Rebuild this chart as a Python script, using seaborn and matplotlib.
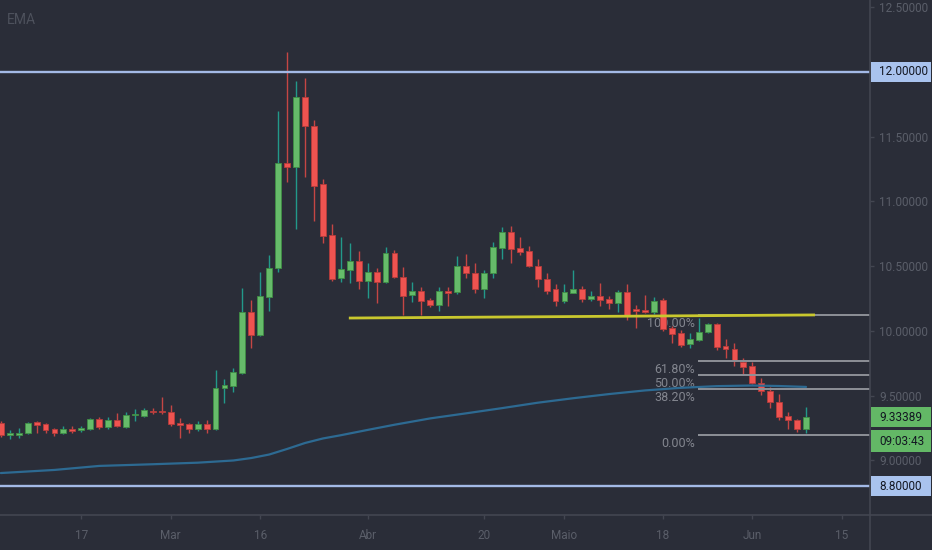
import numpy as np
import pandas as pd
import matplotlib
matplotlib.use("Agg")
import matplotlib.pyplot as plt
import matplotlib.transforms as mtrans
from matplotlib.patches import Rectangle
from matplotlib.lines import Line2D
import seaborn as sns

# ---------------- data ----------------
start_date = "2020-02-04"
opens = [9.290, 9.200, 9.197, 9.212, 9.297, 9.282, 9.243, 9.212, 9.243, 9.236,
         9.243, 9.320, 9.259, 9.313, 9.259, 9.348, 9.344, 9.383, 9.382, 9.375,
         9.290, 9.282, 9.243, 9.282, 9.243, 9.560, 9.576, 9.676, 10.147, 9.969,
         10.263, 10.486, 11.297, 11.266, 11.807, 11.583, 11.135, 10.741, 10.409, 10.471,
         10.541, 10.386, 10.456, 10.378, 10.602, 10.417, 10.278, 10.309, 10.240, 10.201,
         10.309, 10.301, 10.502, 10.448, 10.324, 10.448, 10.641, 10.764, 10.641, 10.618,
         10.502, 10.402, 10.324, 10.232, 10.293, 10.324, 10.247, 10.270, 10.247, 10.216,
         10.301, 10.170, 10.162, 10.147, 10.240, 10.023, 9.985, 9.900, 9.931, 9.992,
         10.054, 9.884, 9.861, 9.761, 9.730, 9.598, 9.537, 9.452, 9.344, 9.313,
         9.243]
highs = [9.305, 9.235, 9.251, 9.297, 9.305, 9.290, 9.251, 9.266, 9.266, 9.266,
         9.328, 9.336, 9.336, 9.367, 9.375, 9.398, 9.406, 9.406, 9.490, 9.429,
         9.328, 9.290, 9.305, 9.313, 9.699, 9.629, 9.714, 10.332, 10.240, 10.456,
         10.587, 11.702, 12.154, 11.931, 11.954, 11.629, 11.174, 10.826, 10.726, 10.680,
         10.618, 10.525, 10.486, 10.649, 10.625, 10.494, 10.378, 10.340, 10.255, 10.340,
         10.340, 10.580, 10.595, 10.525, 10.471, 10.687, 10.803, 10.811, 10.726, 10.656,
         10.556, 10.448, 10.363, 10.363, 10.471, 10.347, 10.309, 10.371, 10.270, 10.317,
         10.363, 10.201, 10.278, 10.263, 10.255, 10.039, 10.008, 9.985, 10.100, 10.062,
         10.062, 9.938, 9.907, 9.792, 9.761, 9.637, 9.568, 9.514, 9.375, 9.320,
         9.413]
lows = [9.181, 9.166, 9.174, 9.205, 9.212, 9.212, 9.189, 9.205, 9.212, 9.220,
        9.236, 9.243, 9.243, 9.259, 9.251, 9.305, 9.336, 9.359, 9.359, 9.267,
        9.174, 9.212, 9.228, 9.212, 9.236, 9.444, 9.529, 9.668, 9.869, 9.961,
        10.155, 10.456, 11.150, 10.787, 11.189, 10.850, 10.680, 10.386, 10.378, 10.371,
        10.324, 10.255, 10.216, 10.371, 10.409, 10.124, 10.224, 10.124, 10.185, 10.155,
        10.193, 10.286, 10.409, 10.293, 10.255, 10.409, 10.556, 10.525, 10.587, 10.494,
        10.340, 10.286, 10.193, 10.216, 10.293, 10.224, 10.232, 10.193, 10.170, 10.147,
        10.085, 10.023, 10.139, 10.131, 10.000, 9.907, 9.876, 9.869, 9.923, 9.985,
        9.853, 9.792, 9.730, 9.660, 9.591, 9.506, 9.405, 9.313, 9.243, 9.220,
        9.212]
closes = [9.197, 9.210, 9.212, 9.289, 9.274, 9.236, 9.212, 9.243, 9.228, 9.251,
          9.320, 9.259, 9.313, 9.266, 9.351, 9.351, 9.390, 9.375, 9.371, 9.282,
          9.274, 9.243, 9.282, 9.243, 9.560, 9.583, 9.684, 10.147, 9.969, 10.270,
          10.486, 11.297, 11.266, 11.807, 11.583, 11.120, 10.733, 10.402, 10.479, 10.541,
          10.386, 10.456, 10.378, 10.602, 10.417, 10.270, 10.309, 10.232, 10.201, 10.309,
          10.293, 10.502, 10.448, 10.324, 10.448, 10.649, 10.764, 10.633, 10.610, 10.502,
          10.402, 10.309, 10.232, 10.301, 10.324, 10.247, 10.270, 10.240, 10.216, 10.301,
          10.116, 10.155, 10.147, 10.232, 10.015, 9.977, 9.892, 9.938, 9.992, 10.054,
          9.876, 9.861, 9.768, 9.722, 9.598, 9.537, 9.452, 9.336, 9.313, 9.243,
          9.334]

ema_idx = [0, 6, 11, 17, 22, 26, 28, 30, 32, 34, 36, 38, 41, 44, 48, 52, 56, 60,
           64, 68, 72, 76, 80, 84, 87, 90]
ema_vals = [8.903, 8.927, 8.958, 8.971, 8.983, 9.000, 9.019, 9.046, 9.089, 9.135,
            9.170, 9.195, 9.236, 9.276, 9.325, 9.364, 9.404, 9.446, 9.481, 9.513,
            9.541, 9.561, 9.574, 9.579, 9.575, 9.568]

tick_dates = ["2020-02-17", "2020-03-02", "2020-03-16", "2020-04-01", "2020-04-20",
              "2020-05-01", "2020-05-18", "2020-06-01", "2020-06-15"]
tick_labels = ["17", "Mar", "16", "Abr", "20", "Maio", "18", "Jun", "15"]
price_ticks = [12.5, 11.5, 11.0, 10.5, 10.0, 9.5, 9.0]
hline_prices = [12.0, 8.8]
fib_high = 10.124
fib_low = 9.197
fib_levels = [1.0, 0.618, 0.5, 0.382, 0.0]
fib_labels = ["100.00%", "61.80%", "50.00%", "38.20%", "0.00%"]
trend_x = [38.9, 91.0]
trend_y = [10.100, 10.124]
last_price = 9.33389
countdown = "09:03:43"

# ---------------- style ----------------
BG = "#2a2d38"
GREEN = "#66bb6a"
GREEN_EDGE = "#3f8f45"
GREEN_WICK = "#22998a"
RED = "#ef5350"
RED_EDGE = "#b63c3b"
RED_WICK = "#c44644"
AXIS_TXT = "#5a5e69"
AXIS_LINE = "#434651"

sns.set_theme(style="dark", rc={"axes.facecolor": BG, "figure.facecolor": BG,
                                "savefig.facecolor": BG})
plt.rcParams["font.family"] = ["Roboto", "DejaVu Sans"]

W, H = 932, 550
fig = plt.figure(figsize=(W / 100, H / 100), dpi=100)
ax = fig.add_axes([0, 35 / H, 870 / W, 515 / H])
ax.set_facecolor(BG)
ymin, ymax = 8.579, 12.556
xmin, xmax = -0.09, 97.15
ax.set_xlim(xmin, xmax)
ax.set_ylim(ymin, ymax)
px_to_price = (ymax - ymin) / 515.0

o = np.array(opens); h = np.array(highs); l = np.array(lows); c = np.array(closes)
x = np.arange(len(o))
up = c >= o
body_bot = np.minimum(o, c)
body_h = np.maximum(np.abs(c - o), 1.3 * px_to_price)

ax.vlines(x[up], l[up], h[up], color=GREEN_WICK, lw=1.0, zorder=2)
ax.vlines(x[~up], l[~up], h[~up], color=RED_WICK, lw=1.0, zorder=2)
ax.bar(x[up], body_h[up], bottom=body_bot[up], width=0.66, color=GREEN,
       edgecolor=GREEN_EDGE, linewidth=0.6, zorder=3)
ax.bar(x[~up], body_h[~up], bottom=body_bot[~up], width=0.66, color=RED,
       edgecolor=RED_EDGE, linewidth=0.6, zorder=3)

# EMA
sns.lineplot(x=ema_idx, y=ema_vals, ax=ax, color="#2d6a92", lw=1.6, zorder=4)

# horizontal levels
for p in hline_prices:
    ax.axhline(p, color="#a3b9e6", lw=1.7, zorder=5)

# fib retracement
fib_prices = [fib_low + f * (fib_high - fib_low) for f in fib_levels]
fib_x0 = 77.9
ax.hlines(fib_prices, fib_x0, xmax, color="#8d9097", lw=1.4, zorder=4)
for fp, lab in zip(fib_prices, fib_labels):
    ax.annotate(lab, xy=(fib_x0 - 0.3, fp), xytext=(0, -6), textcoords="offset points",
                ha="right", va="center", color="#83868f", fontsize=9, zorder=1.5)

# trend line
ax.plot(trend_x, trend_y, color="#c9c82e", lw=2.0, zorder=5, solid_capstyle="butt")

# EMA label
ax.text(7 / 870, 1 - 20 / 515, "EMA", transform=ax.transAxes, ha="left", va="center",
        color="#4d515c", fontsize=10)

# axes / ticks
for s in ax.spines.values():
    s.set_visible(False)
ax.grid(False)
tick_pos = np.busday_count(start_date, tick_dates)
ax.set_xticks(tick_pos)
ax.set_xticklabels(tick_labels)
ax.tick_params(axis="x", length=3, width=1, color=AXIS_LINE, labelcolor=AXIS_TXT,
               labelsize=8.5, pad=7, bottom=True)
ax.yaxis.tick_right()
ax.set_yticks(price_ticks)
ax.set_yticklabels([f"{p:.5f}" for p in price_ticks])
ax.tick_params(axis="y", length=3, width=1, color=AXIS_LINE, labelcolor=AXIS_TXT,
               labelsize=8.5, pad=3.5, right=True, left=False)
ax.set_xlabel("")
ax.set_ylabel("")

# frame lines spanning the whole figure
fig.add_artist(Line2D([0, 1], [35 / H, 35 / H], transform=fig.transFigure,
                      color=AXIS_LINE, lw=1.2))
fig.add_artist(Line2D([870 / W, 870 / W], [0, 1], transform=fig.transFigure,
                      color=AXIS_LINE, lw=1.2))

# price labels on the scale
btf = mtrans.blended_transform_factory(fig.transFigure, ax.transData)
def price_box(p, text, face, half_px=10):
    hh = half_px * px_to_price
    ax.add_patch(Rectangle((871 / W, p - hh), 60 / W, 2 * hh, transform=btf,
                           facecolor=face, edgecolor="none", clip_on=False, zorder=7))
    ax.text(879 / W, p, text, transform=btf, ha="left", va="center",
            color="#131722", fontsize=8.5, clip_on=False, zorder=8)

for p in hline_prices:
    price_box(p, f"{p:.5f}", "#a9c3ee")
price_box(last_price, f"{last_price:.5f}", "#63b866")
price_box(last_price - 24 * px_to_price, countdown, "#63b866", half_px=11)

fig.savefig("out.png", dpi=100, facecolor=BG)
